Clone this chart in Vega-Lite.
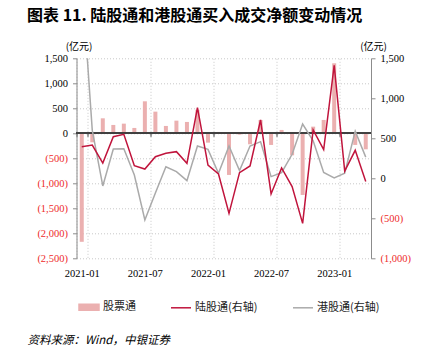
{
  "$schema": "https://vega.github.io/schema/vega-lite/v6.json",
  "width": 294.5,
  "height": 200,
  "autosize": {"type": "none"},
  "padding": {"left": 76.5, "top": 58.3, "right": 62, "bottom": 98.7},
  "background": "#ffffff",
  "title": {
    "text": "图表 11. 陆股通和港股通买入成交净额变动情况",
    "anchor": "start",
    "frame": "group",
    "dx": -49.5,
    "offset": 17,
    "font": "Noto Sans CJK SC",
    "fontSize": 16,
    "fontWeight": "bold",
    "color": "#000000"
  },
  "data": {
    "values": [
      {"m": "2021-01", "a": -2170, "n": 395, "s": 2500},
      {"m": "2021-02", "a": -180, "n": 416, "s": 600},
      {"m": "2021-03", "a": 300, "n": 190, "s": -96},
      {"m": "2021-04", "a": 167, "n": 520, "s": 366},
      {"m": "2021-05", "a": 193, "n": 550, "s": 370},
      {"m": "2021-06", "a": 107, "n": 158, "s": 41},
      {"m": "2021-07", "a": 640, "n": 116, "s": -521},
      {"m": "2021-08", "a": 433, "n": 270, "s": -184},
      {"m": "2021-09", "a": 147, "n": 312, "s": 145},
      {"m": "2021-10", "a": 253, "n": 333, "s": 83},
      {"m": "2021-11", "a": 227, "n": 187, "s": -29},
      {"m": "2021-12", "a": 470, "n": 883, "s": 404},
      {"m": "2022-01", "a": -187, "n": 166, "s": 362},
      {"m": "2022-02", "a": 27, "n": 54, "s": 62},
      {"m": "2022-03", "a": -833, "n": -438, "s": 404},
      {"m": "2022-04", "a": -27, "n": 71, "s": 96},
      {"m": "2022-05", "a": -220, "n": 154, "s": 404},
      {"m": "2022-06", "a": 267, "n": 729, "s": 458},
      {"m": "2022-07", "a": -233, "n": -196, "s": 21},
      {"m": "2022-08", "a": 67, "n": 129, "s": 71},
      {"m": "2022-09", "a": -440, "n": -104, "s": 300},
      {"m": "2022-10", "a": -1233, "n": -563, "s": 679},
      {"m": "2022-11", "a": 133, "n": 604, "s": 469},
      {"m": "2022-12", "a": 267, "n": 360, "s": 73},
      {"m": "2023-01", "a": 1400, "n": 1412, "s": 6},
      {"m": "2023-02", "a": 20, "n": 90, "s": 65},
      {"m": "2023-03", "a": -233, "n": 350, "s": 590},
      {"m": "2023-04", "a": -320, "n": -40, "s": 265}
    ]
  },
  "config": {
    "view": {"stroke": null},
    "font": "Liberation Serif",
    "axis": {
      "labelFont": "Liberation Serif",
      "labelFontSize": 10.5,
      "labelColor": "#000000",
      "labelOverlap": false,
      "domainColor": "#8c8c8c",
      "tickColor": "#8c8c8c",
      "titleFont": "Noto Sans CJK SC",
      "titleFontWeight": "normal",
      "titleFontSize": 10,
      "titleColor": "#000000"
    }
  },
  "layer": [
    {
      "layer": [
        {
          "mark": {"type": "bar", "size": 4},
          "encoding": {
            "x": {
              "field": "m",
              "type": "ordinal",
              "scale": {"paddingInner": 0, "paddingOuter": 0},
              "axis": {
                "orient": "bottom",
                "values": ["2021-01", "2021-07", "2022-01", "2022-07", "2023-01"],
                "tickBand": "extent",
                "domain": false,
                "ticks": false,
                "labelAngle": 0,
                "labelPadding": 10,
                "grid": true,
                "gridColor": "#c8c8c8",
                "gridDash": [1, 2],
                "title": "资料来源：Wind，中银证券",
                "titleFontStyle": "italic",
                "titleFontSize": 11.5,
                "titleX": -49.5,
                "titleY": 82,
                "titleAlign": "left",
                "titleBaseline": "middle"
              }
            },
            "y": {
              "field": "a",
              "type": "quantitative",
              "scale": {"domain": [-2500, 1500], "nice": false, "zero": false},
              "axis": {
                "orient": "left",
                "values": [-2500, -2000, -1500, -1000, -500, 0, 500, 1000, 1500],
                "tickCount": 20,
                "labelExpr": "datum.value < 0 ? '(' + format(-datum.value, ',') + ')' : format(datum.value, ',')",
                "labelColor": {"condition": {"test": "datum.value < 0", "value": "#ee2b2b"}, "value": "#000000"},
                "labelOverlap": false,
                "tickSize": 4,
                "labelPadding": 5,
                "grid": true,
                "gridColor": "#c8c8c8",
                "gridDash": [1, 2],
                "title": "(亿元)",
                "titleAngle": 0,
                "titleX": 2,
                "titleY": -12,
                "titleAlign": "center",
                "titleBaseline": "middle"
              }
            },
            "color": {
              "datum": "股票通",
              "scale": {
                "domain": ["股票通", "陆股通(右轴)", "港股通(右轴)"],
                "range": ["#ebb0b0", "#c0143c", "#aaaaaa"]
              },
              "legend": {
                "orient": "none",
                "legendX": 1.5,
                "legendY": 238,
                "direction": "horizontal",
                "title": null,
                "padding": 0,
                "columnPadding": 32,
                "labelOffset": 3,
                "labelFont": "Noto Sans CJK SC",
                "labelFontSize": 11,
                "labelColor": "#222222",
                "symbolSize": 400,
                "symbolType": "stroke",
                "encode": {
                  "symbols": {
                    "update": {
                      "shape": {"signal": "datum.value === '股票通' ? 'M-1,-0.3H1V0.3H-1Z' : 'stroke'"},
                      "fill": {"signal": "datum.value === '股票通' ? '#ebb0b0' : 'transparent'"},
                      "stroke": {"signal": "datum.value === '股票通' ? 'transparent' : (datum.value === '陆股通(右轴)' ? '#c0143c' : '#aaaaaa')"},
                      "strokeWidth": {"value": 1.5},
                      "opacity": {"value": 1}
                    }
                  }
                }
              }
            }
          }
        },
        {
          "mark": {"type": "rule", "color": "#404040", "strokeWidth": 1},
          "encoding": {"y": {"datum": 0}}
        }
      ]
    },
    {
      "layer": [
        {
          "mark": {"type": "line", "strokeWidth": 1.5, "clip": true},
          "encoding": {
            "x": {
              "field": "m",
              "type": "ordinal",
              "axis": {
                "orient": "bottom",
                "offset": -125,
                "values": ["2021-01", "2021-07", "2022-01", "2022-07", "2023-01"],
                "tickBand": "extent",
                "domain": false,
                "labels": false,
                "ticks": true,
                "tickSize": 3,
                "tickColor": "#404040",
                "grid": false,
                "title": null
              }
            },
            "y": {
              "field": "s",
              "type": "quantitative",
              "scale": {"domain": [-1000, 1500], "nice": false, "zero": false},
              "axis": {
                "orient": "right",
                "values": [-1000, -500, 0, 500, 1000, 1500],
                "tickCount": 20,
                "labelExpr": "datum.value < 0 ? '(' + format(-datum.value, ',') + ')' : format(datum.value, ',')",
                "labelColor": {"condition": {"test": "datum.value < 0", "value": "#ee2b2b"}, "value": "#000000"},
                "labelOverlap": false,
                "tickSize": 4,
                "labelPadding": 5,
                "grid": false,
                "title": "(亿元)",
                "titleAngle": 0,
                "titleX": 2,
                "titleY": -12,
                "titleAlign": "center",
                "titleBaseline": "middle"
              }
            },
            "color": {"datum": "港股通(右轴)"}
          }
        },
        {
          "mark": {"type": "line", "strokeWidth": 1.5, "clip": true},
          "encoding": {
            "x": {"field": "m", "type": "ordinal"},
            "y": {"field": "n", "type": "quantitative"},
            "color": {"datum": "陆股通(右轴)"}
          }
        }
      ]
    }
  ],
  "resolve": {"scale": {"y": "independent"}, "axis": {"x": "independent", "y": "independent"}}
}
